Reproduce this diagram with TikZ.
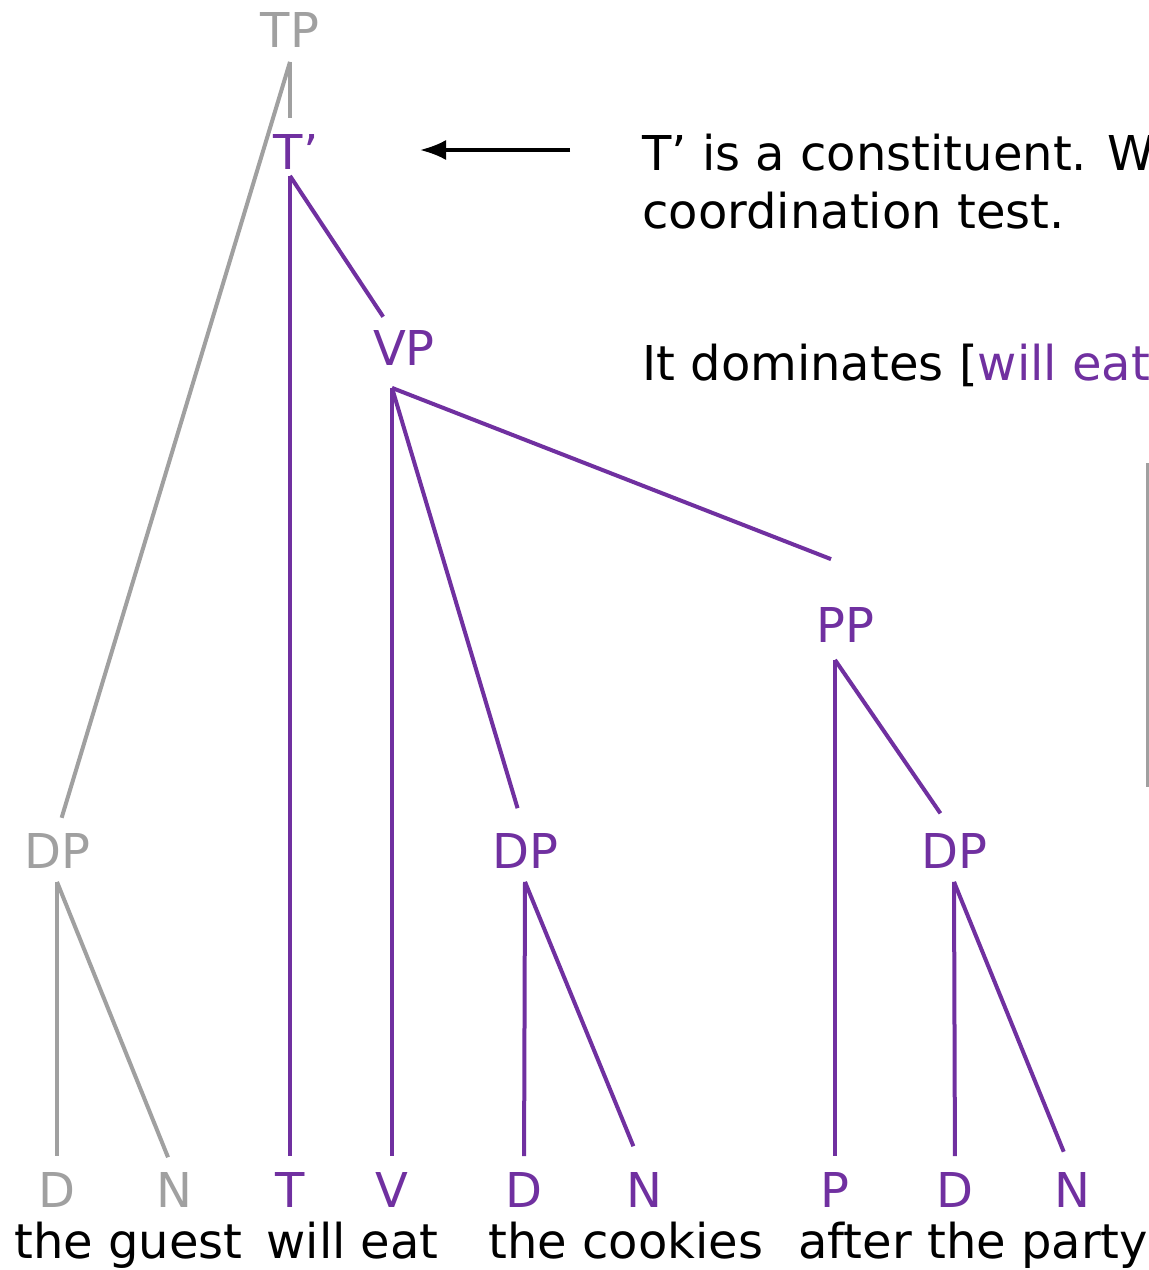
\documentclass[tikz,border=0pt]{standalone}
\usepackage{fontspec}
\setmainfont{DejaVu Sans}
\usetikzlibrary{arrows.meta}
\definecolor{treepurple}{HTML}{7030A0}
\definecolor{treegrey}{HTML}{A0A0A0}

\begin{document}
\begin{tikzpicture}[x=0.5pt,y=-0.5pt,font=\fontsize{24}{29}\selectfont]
  \path[use as bounding box] (0,0) rectangle (1149,1270);
  \clip (0,0) rectangle (1149,1270);
  \fill[white] (0,0) rectangle (1149,1270);

  \tikzset{cat/.style={text=#1,inner sep=0pt,text height=17.5pt,text depth=0pt},
    branch/.style={draw=#1,line width=2pt,shorten >=8pt},
    arrow/.style={-{Latex[length=13pt,width=10pt]},line width=1.6pt,draw=black}}

  % phrase labels
  \node[cat=treegrey] (tp) at (290,30) {TP};
  \node[cat=treepurple] (tbar) at (296,152) {T’};
  \node[cat=treepurple] (vp) at (404,348) {VP};
  \node[cat=treepurple] (pp) at (845,625) {PP};
  \node[cat=treegrey] (dpl) at (57,851) {DP};
  \node[cat=treepurple] (dpm) at (525,851) {DP};
  \node[cat=treepurple] (dpr) at (954,851) {DP};

  % heads
  \node[cat=treegrey] (dl) at (57,1190) {D};
  \node[cat=treegrey] (nl) at (174,1190) {N};
  \node[cat=treepurple] (t) at (290,1190) {T};
  \node[cat=treepurple] (v) at (392,1190) {V};
  \node[cat=treepurple] (dm) at (524,1190) {D};
  \node[cat=treepurple] (nm) at (644,1190) {N};
  \node[cat=treepurple] (p) at (835,1190) {P};
  \node[cat=treepurple] (dr) at (955,1190) {D};
  \node[cat=treepurple] (nr) at (1072,1190) {N};

  % words
  \node[anchor=base west,inner sep=0pt] (wguest) at (14,1258) {the guest};
  \node[anchor=base west,inner sep=0pt] (weat) at (266,1258) {will eat};
  \node[anchor=base west,inner sep=0pt] (wcookies) at (488,1258) {the cookies};
  \node[anchor=base west,inner sep=0pt] (wparty) at (798,1258) {after the party};

  % branch feet
  \coordinate (tpfoot) at ([yshift=-7pt]tp.south);
  \coordinate (tbarfoot) at ([yshift=-3pt]t.north |- tbar.south);
  \coordinate (vpfoot) at ([yshift=-11pt]v.north |- vp.south);
  \coordinate (ppfoot) at ([yshift=-8.5pt]p.north |- pp.south);
  \coordinate (dplfoot) at ([yshift=-6.5pt]dpl.south);
  \coordinate (dpmfoot) at ([yshift=-6.5pt]dpm.south);
  \coordinate (dprfoot) at ([yshift=-6.5pt]dpr.south);

  % branches
  \draw[branch=treegrey] (tpfoot) -- (tpfoot |- tbar.north);
  \draw[branch=treegrey] (tpfoot) -- (dpl.north);
  \draw[branch=treegrey] (dplfoot) -- (dl.north);
  \draw[branch=treegrey] (dplfoot) -- (nl.north);
  \draw[branch=treepurple] (tbarfoot) -- (t.north);
  \draw[branch=treepurple] (tbarfoot) -- (v.north |- vp.north);
  \draw[branch=treepurple] (vpfoot) -- (v.north);
  \draw[branch=treepurple,shorten >=13pt] (vpfoot) -- (dpm.north);
  \draw[branch=treepurple,shorten >=66pt] (vpfoot) -- (dpr.north |- pp.north);
  \draw[branch=treepurple] (dpmfoot) -- (dm.north);
  \draw[branch=treepurple,shorten >=14pt] (dpmfoot) -- (nm.north);
  \draw[branch=treepurple] (ppfoot) -- (p.north);
  \draw[branch=treepurple,shorten >=12pt] (ppfoot) -- (dpr.north);
  \draw[branch=treepurple] (dprfoot) -- (dr.north);
  \draw[branch=treepurple,shorten >=11pt] (dprfoot) -- (nr.north);

  % commentary
  \node[anchor=base west,inner sep=0pt] (note1) at (642,170) {T’ is a constituent. W};
  \node[anchor=base west,inner sep=0pt] (note2) at (642,228) {coordination test.};
  \node[anchor=base west,inner sep=0pt] (note3) at (642,380)
    {It dominates [\textcolor{treepurple}{will eat}};
  \coordinate (arrtail) at (570,150);
  \coordinate (arrhead) at (420,150);
  \draw[arrow] (arrtail) -- (arrhead);
  \coordinate (bartop) at (1147,463);
  \coordinate (barbot) at (1147,787);
  \draw[treegrey,line width=1.5pt] (bartop) -- (barbot);
\end{tikzpicture}
\end{document}
